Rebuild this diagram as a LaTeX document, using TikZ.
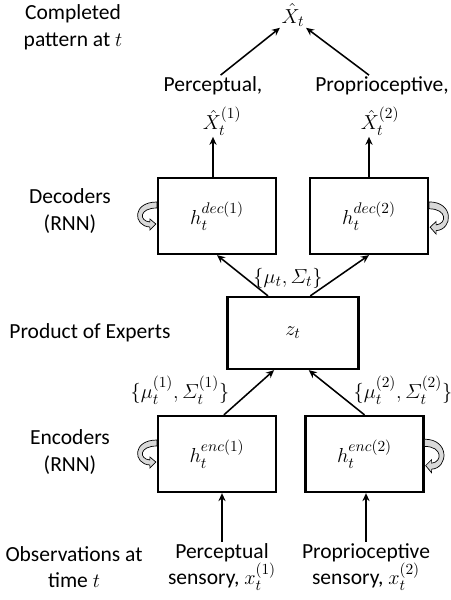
\documentclass[tikz,border=0pt]{standalone}
\usepackage{amsmath,amssymb}
\usepackage{fontspec}
\setmainfont{Carlito}
\usepackage{tikz}
\usetikzlibrary{arrows.meta, positioning, calc}

\tikzset{
  recur/.pic={
    \filldraw[fill=gray!30, draw=black, line width=0.5pt]
      (0,-14) .. controls (-25,-14) and (-24,10) .. (-7,11) -- (-7,14) -- (-1,8)
      -- (-7,3) -- (-7,6) .. controls (-18,5) and (-18,-8) .. (0,-8) -- cycle;
  }
}

\begin{document}
\begin{tikzpicture}[
          x=0.025cm, y=-0.025cm,
          hbox/.style={rectangle, draw, line width=1.6pt,
                        minimum width=2.95cm, minimum height=1.9cm,
                        font=\fontsize{15.3}{19}\selectfont},
          arr/.style={-{Stealth[length=2mm, width=1.8mm]}, line width=1.1pt},
          lab/.style={align=center, inner sep=1pt, font=\fontsize{15.3}{19}\selectfont}
        ]
          \useasboundingbox (0,0) rectangle (451,600);
          \node[lab] (xhat) at (293,15) {$\hat{X}_t$};
          \node[lab] (pout1) at (213,86) {Perceptual,};
          \node[lab] (pout2) at (382,86) {Proprioceptive,};
          \node[lab] (xh1) at (222,121) {$\hat{X}_t^{(1)}$};
          \node[lab] (xh2) at (380,121) {$\hat{X}_t^{(2)}$};
          \node[hbox] (dec1) at (217,216) {$h_t^{dec(1)}$};
          \node[hbox] (dec2) at (369,216) {$h_t^{dec(2)}$};
          \node[hbox, minimum width=3.275cm, minimum height=1.8cm] (poe) at (293,333) {$z_t$};
          \node[hbox] (enc1) at (217,454) {$h_t^{enc(1)}$};
          \node[hbox] (enc2) at (364.5,454) {$h_t^{enc(2)}$};
          \node[lab] (sens1) at (222,567) {Perceptual\\sensory, $x_t^{(1)}$};
          \node[lab] (sens2) at (366,567) {Proprioceptive\\sensory, $x_t^{(2)}$};
          \node[lab] (dist) at (288,278) {$\{\mu_t,\varSigma_t\}$};
          \node[lab] (dist1) at (180,390) {$\{\mu_t^{(1)},\varSigma_t^{(1)}\}$};
          \node[lab] (dist2) at (403,390) {$\{\mu_t^{(2)},\varSigma_t^{(2)}\}$};
          \node[lab] (rowout) at (73,27) {Completed\\pattern at $t$};
          \node[lab] (rowdec) at (70,211) {Decoders\\(RNN)};
          \node[lab] (rowpoe) at (90,333) {Product of Experts};
          \node[lab] (rowenc) at (70,452) {Encoders\\(RNN)};
          \node[lab] (rowobs) at (74,567) {Observations at\\time $t$};
          \draw[arr] (pout1.55) -- (xhat.south west);
          \draw[arr] (pout2.140) -- (xhat.south east);
          \draw[arr] (dec1.north -| pout1) -- (pout1 |- xh1.south);
          \draw[arr] (dec2.north) -- (dec2 |- xh2.south);
          \draw[arr] (poe.124) -- (dec1.south); \draw[arr] (poe.65) -- (dec2.south);
          \draw[arr] (enc1.80) -- (poe.243); \draw[arr] (enc2.north) -- (poe.293);
          \draw[arr] (sens1.north) -- (sens1.north |- enc1.south);
          \draw[arr] (sens2.north) -- (sens2.north |- enc2.south);
          \pic at (dec1.west) {recur};
          \pic[xscale=-1, yscale=1.15] at ($(dec2.east)+(0,2)$) {recur};
          \pic at (enc1.west) {recur};
          \pic[xscale=-1, yscale=1.2] at ($(enc2.east)+(0,2)$) {recur};
        \end{tikzpicture}
\end{document}
